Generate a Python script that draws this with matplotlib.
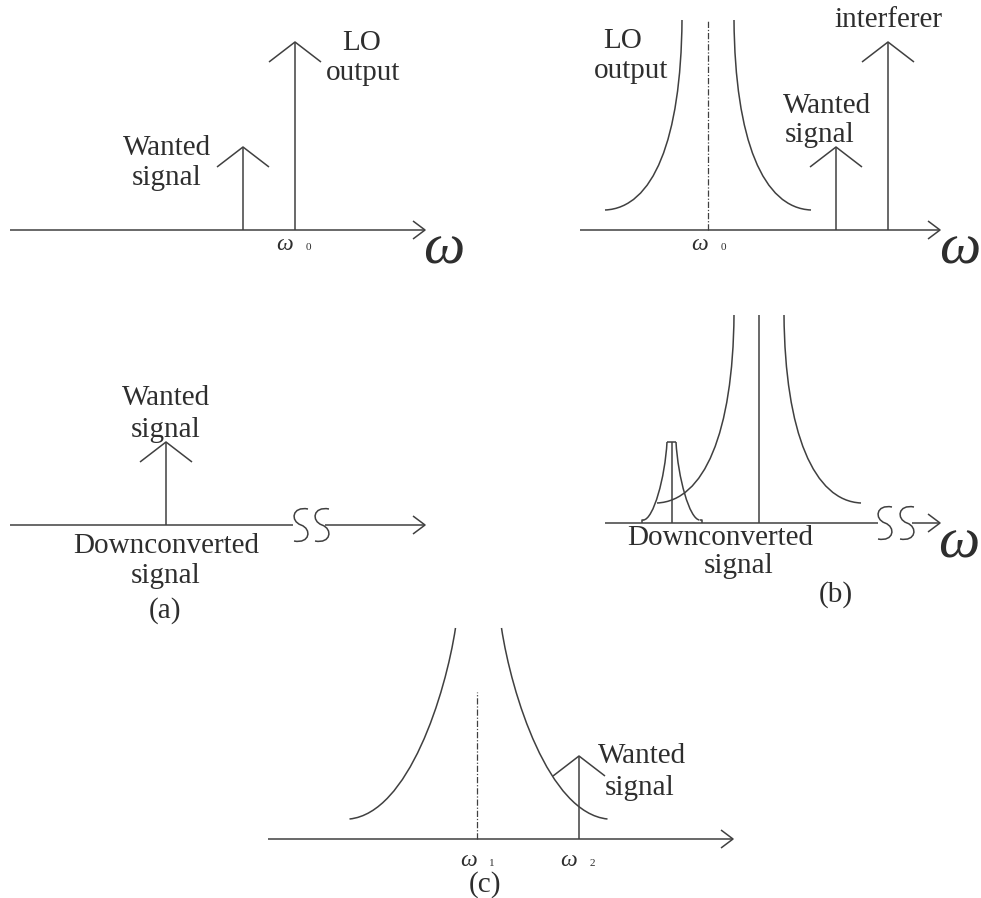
import matplotlib
matplotlib.use('Agg')
import matplotlib.pyplot as plt
from matplotlib.path import Path
from matplotlib.patches import PathPatch

# whole figure is drawn in pixel units, y pointing down
W, H = 981, 898
INK = '#404040'
TXT = '#2e2e2e'
SERIF = ['Liberation Serif', 'DejaVu Serif']

# frequency axes of the five panels: start x, arrow tip x, y
axis_x0 = [10, 580, 10, 605, 268]
axis_x1 = [425, 940, 425, 940, 733]
axis_y = [230, 230, 525, 523, 839]
# break marks on the axes of (a) and (b): gap start, gap end, S centres
break_gap = {2: (293, 325), 3: (878, 912)}
break_s = {2: [301, 322], 3: [885, 907]}

# spectral lines (x, top y) with a chevron head, sitting on axis i
tone_axis = [0, 0, 1, 1, 2, 4]
tone_x = [243, 295, 836, 888, 166, 579]
tone_top = [147, 42, 147, 42, 442, 756]

# plain vertical lines without head: (axis, x, top y, dashed?)
stem_axis = [1, 3, 3, 4]
stem_x = [708, 759, 672, 477]
stem_top = [20, 315, 442, 692]
stem_dash = [True, False, False, True]

# LO phase-noise skirts: axis, centre x, half width top/bottom, height top/bottom
skirt_axis = [1, 3, 4]
skirt_cx = [708, 759, 478.5]
skirt_top_half = [26, 25, 23]
skirt_bot_half = [103, 102, 129]
skirt_top_h = [210, 208, 211]
skirt_bot_h = [20, 20, 20]

# narrow downconverted interferer skirt in (b)
small_cx, small_top_half, small_bot_half, small_h = 671.5, 4.5, 30, 81

fig = plt.figure(figsize=(W / 100, H / 100), dpi=100)
ax = fig.add_axes([0, 0, 1, 1])
ax.set_xlim(0, W)
ax.set_ylim(H, 0)
ax.axis('off')

LW = 1.1


def line(xs, ys, **kw):
    ax.plot(xs, ys, color=INK, lw=kw.pop('lw', LW), solid_capstyle='butt', **kw)


def s_mark(cx, cy):
    verts = [(cx + 7, cy - 16), (cx - 9, cy - 19), (cx - 11, cy - 4), (cx, cy),
             (cx + 11, cy + 4), (cx + 9, cy + 19), (cx - 7, cy + 16)]
    codes = [Path.MOVETO] + [Path.CURVE4] * 6
    ax.add_patch(PathPatch(Path(verts, codes), fill=False, ec=INK, lw=LW))


def skirt_side(cx, y0, sign, top_half, bot_half, top_h, bot_h, c1, c2):
    # one flank: cubic Bezier from the narrow top to the flat bottom
    p0 = (cx + sign * top_half, y0 - top_h)
    p1 = (cx + sign * (top_half + c1[0]), y0 - c1[1])
    p2 = (cx + sign * c2[0], y0 - c2[1])
    p3 = (cx + sign * bot_half, y0 - bot_h)
    path = Path([p0, p1, p2, p3], [Path.MOVETO] + [Path.CURVE4] * 3)
    ax.add_patch(PathPatch(path, fill=False, ec=INK, lw=LW))


# axes with open arrow heads
for i in range(5):
    y = axis_y[i]
    if i in break_gap:
        g0, g1 = break_gap[i]
        line([axis_x0[i], g0], [y, y])
        line([g1, axis_x1[i]], [y, y])
        for cx in break_s[i]:
            s_mark(cx, y)
    else:
        line([axis_x0[i], axis_x1[i]], [y, y])
    tip = axis_x1[i]
    line([tip - 12, tip, tip - 12], [y - 9, y, y + 9])

# spectral lines with chevrons
for a, x, top in zip(tone_axis, tone_x, tone_top):
    line([x, x], [axis_y[a], top])
    line([x - 26, x, x + 26], [top + 20, top, top + 20])

# stems
for a, x, top, dash in zip(stem_axis, stem_x, stem_top, stem_dash):
    if dash:
        line([x, x], [axis_y[a], top], lw=0.9, linestyle=(0, (5, 1.5, 1, 1.5)))
    else:
        line([x, x], [axis_y[a], top])

# skirts
for k, a in enumerate(skirt_axis):
    if k == 2:
        c1, c2 = (10, 145), (70, 26)
    else:
        c1, c2 = (1, 90), (55, 22)
    for sign in (-1, 1):
        skirt_side(skirt_cx[k], axis_y[a], sign, skirt_top_half[k], skirt_bot_half[k],
                   skirt_top_h[k], skirt_bot_h[k], c1, c2)

# small skirt in (b): flat cap, flanks, short drop to the axis
y0 = axis_y[3]
line([small_cx - small_top_half, small_cx + small_top_half], [y0 - small_h, y0 - small_h])
for sign in (-1, 1):
    skirt_side(small_cx, y0, sign, small_top_half, small_bot_half - 2, small_h, 3,
               (2, 45), (18, 4))
    line([small_cx + sign * (small_bot_half - 2), small_cx + sign * small_bot_half,
          small_cx + sign * small_bot_half], [y0 - 3, y0 - 3, y0])

# labels: text, x centre, baseline y
lab_text = ['LO', 'output', 'Wanted', 'signal',
            'LO', 'output', 'interferer', 'Wanted', 'signal',
            'Wanted', 'signal', 'Downconverted', 'signal', '(a)',
            'Downconverted', 'signal', '(b)',
            'Wanted', 'signal', '(c)']
lab_x = [362, 363, 167, 167,
         623, 631, 888, 827, 820,
         166, 166, 166, 166, 165,
         720, 739, 836,
         642, 640, 485]
lab_y = [50, 80, 155, 185,
         48, 78, 27, 113, 142,
         405, 437, 553, 583, 618,
         545, 573, 602,
         763, 795, 892]
for t, x, y in zip(lab_text, lab_x, lab_y):
    ax.text(x, y, t, ha='center', va='baseline', fontsize=21, color=TXT, family=SERIF)

# small omega tick labels with subscripts
om_x = [285, 700, 469, 569]
om_y = [250, 250, 866, 866]
om_sub = ['0', '0', '1', '2']
for x, y, s in zip(om_x, om_y, om_sub):
    ax.text(x, y, '\u03c9', ha='center', va='baseline', fontsize=17, style='italic',
            color=TXT, family=SERIF)
    ax.text(x + 23, y, s, ha='center', va='baseline', fontsize=8, color=TXT, family=SERIF)

# big omega axis names
big_x = [444, 960, 959]
big_y = [263, 263, 557]
for x, y in zip(big_x, big_y):
    ax.text(x, y, '\u03c9', ha='center', va='baseline', fontsize=42, style='italic',
            color=TXT, family=SERIF)

fig.savefig('out.png', dpi=100)
